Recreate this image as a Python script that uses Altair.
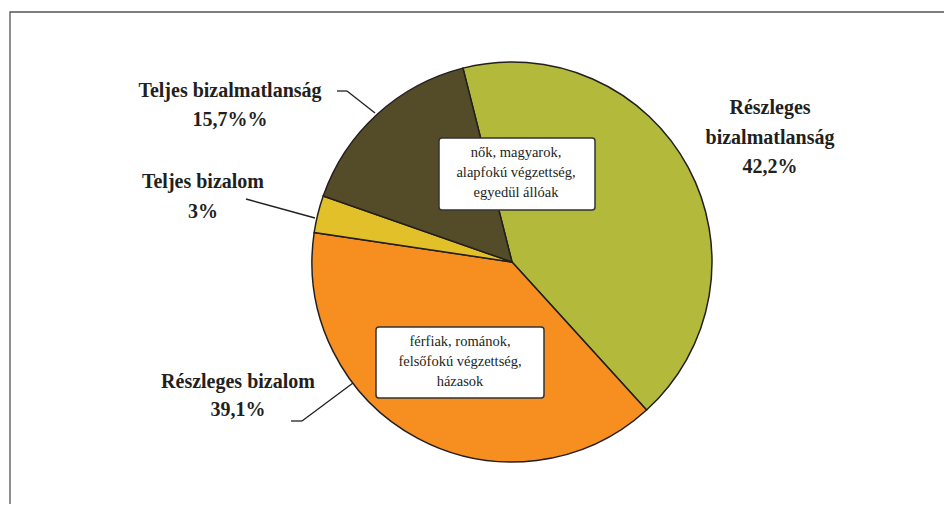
import math
import altair as alt
import pandas as pd

# ---- data ----
categories = ["Részleges bizalmatlanság", "Részleges bizalom", "Teljes bizalom", "Teljes bizalmatlanság"]
values = [42.2, 39.1, 3.0, 15.7]
colors = ["#b3b93a", "#f68f20", "#e2c02a", "#544c28"]

label_lines = ["Részleges", "bizalmatlanság", "42,2%",
               "Részleges bizalom", "39,1%",
               "Teljes bizalom", "3%",
               "Teljes bizalmatlanság", "15,7%%"]
box_lines = ["nők, magyarok,", "alapfokú végzettség,", "egyedül állóak",
             "férfiak, románok,", "felsőfokú végzettség,", "házasok"]

# ---- layout (plot coordinates) ----
label_x = [762, 762, 762, 230, 230, 195, 195, 222, 222]
label_y = [100, 130, 159, 374, 402, 174, 204, 83, 112]
box_text_x = [508, 508, 508, 452, 452, 452]
box_text_y = [145, 165, 185, 334, 354, 374]
box_x = [431, 368]
box_x2 = [587, 536]
box_y = [130, 319]
box_y2 = [202, 390]
seg_x = [329, 339, 238, 283, 294]
seg_y = [83, 83, 191, 413, 413]
seg_x2 = [339, 367, 307, 294, 345]
seg_y2 = [83, 105, 210, 413, 375]

start = math.radians(-14.2)
ink = "#231f20"

pie_df = pd.DataFrame({"cat": categories, "value": values, "order": list(range(len(values)))})
lab_df = pd.DataFrame({"text": label_lines, "x": label_x, "y": label_y})
box_txt_df = pd.DataFrame({"text": box_lines, "x": box_text_x, "y": box_text_y})
box_df = pd.DataFrame({"x": box_x, "x2": box_x2, "y": box_y, "y2": box_y2})
seg_df = pd.DataFrame({"x": seg_x, "y": seg_y, "x2": seg_x2, "y2": seg_y2})
frame_df = pd.DataFrame({"x": [2], "y": [4], "x2": [1000], "y2": [700]})

frame = alt.Chart(frame_df).mark_rect(fill=None, stroke="#555555", strokeWidth=1.3).encode(
    x=alt.X("x:Q", scale=None), x2="x2:Q", y=alt.Y("y:Q", scale=None), y2="y2:Q")

pie = alt.Chart(pie_df).mark_arc(radius=200, stroke=ink, strokeWidth=1.5).encode(
    theta=alt.Theta("value:Q", stack=True,
                    scale=alt.Scale(range=[start, start + 2 * math.pi])),
    color=alt.Color("cat:N", scale=alt.Scale(domain=categories, range=colors), legend=None),
    order=alt.Order("order:Q"),
    x=alt.value(504), y=alt.value(254))

segs = alt.Chart(seg_df).mark_rule(color=ink, strokeWidth=1.3).encode(
    x=alt.X("x:Q", scale=None), y=alt.Y("y:Q", scale=None), x2="x2:Q", y2="y2:Q")

boxes = alt.Chart(box_df).mark_rect(fill="white", stroke="#333333", strokeWidth=1.5, cornerRadius=3).encode(
    x=alt.X("x:Q", scale=None), x2="x2:Q", y=alt.Y("y:Q", scale=None), y2="y2:Q")

labels = alt.Chart(lab_df).mark_text(font="Liberation Serif", fontSize=20, fontWeight="bold",
                                     color=ink, baseline="middle", align="center").encode(
    x=alt.X("x:Q", scale=None), y=alt.Y("y:Q", scale=None), text="text:N")

box_text = alt.Chart(box_txt_df).mark_text(font="Liberation Serif", fontSize=14.5,
                                           color=ink, baseline="middle", align="center").encode(
    x=alt.X("x:Q", scale=None), y=alt.Y("y:Q", scale=None), text="text:N")

chart = alt.layer(frame, pie, segs, boxes, labels, box_text).properties(
    width=936, height=496, autosize="none", padding=0
).configure_view(stroke=None)

chart.save("out.html", embed_options={"renderer": "svg", "actions": False})
